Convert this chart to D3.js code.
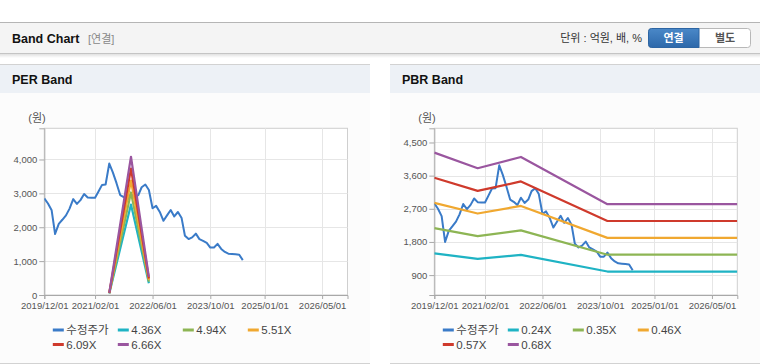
<!DOCTYPE html>
<html><head><meta charset="utf-8">
<script src="https://cdn.jsdelivr.net/npm/d3@7/dist/d3.min.js"></script>
<style>
html,body{margin:0;padding:0;background:#fff;}
svg{display:block;font-family:"Liberation Sans",Arial,"Noto Sans CJK KR",sans-serif;}
</style></head>
<body><svg id="c" width="760" height="364"></svg>
<script>
// ---- data ----
const priceStart = "2019-12-01"; // monthly closing (수정주가)
const priceValues = [2850,2700,2500,1800,2100,2220,2350,2550,2830,2690,2800,2980,
  2880,2870,2870,3050,3250,3260,3880,3620,3300,2950,2890,2800,
  3000,2860,2950,3180,3260,3100,2560,2630,2450,2190,2350,2510,
  2320,2450,2270,1750,1650,1700,1810,1650,1600,1540,1400,1400,
  1510,1360,1270,1220,1210,1200,1190,1030];
const perDates = ["2021-06-01","2021-12-01","2022-05-01"];
const perEps = [10, 612.6, 80];
const perMultiples = [4.36, 4.94, 5.51, 6.09, 6.66];
const pbrDates = ["2019-12-01","2020-12-01","2021-12-01","2023-12-01","2026-12-01"];
const pbrBps = [6215, 5590, 6040, 4155, 4155];
const pbrMultiples = [0.24, 0.35, 0.46, 0.57, 0.68];
const xTickLabels = ["2019/12/01","2021/02/01","2022/06/01","2023/10/01","2025/01/01","2026/05/01"];
const perYTicks = [0,1000,2000,3000,4000];
const pbrYTicks = [900,1800,2700,3600,4500];
const bandColors = ["#1fb3c4","#8db554","#f0a830","#cf3a2c","#9a569f"];
const priceColor = "#3a7bc8";

const svg = d3.select("#c");
const parse = d3.timeParse("%Y-%m-%d");
const p0 = parse(priceStart);
const priceSeries = priceValues.map((v,i)=>({d:d3.timeMonth.offset(p0,i), v}));

// ---- top header ----
const defs = svg.append("defs");
const sh = defs.append("linearGradient").attr("id","sh").attr("x1",0).attr("x2",0).attr("y1",0).attr("y2",1);
sh.append("stop").attr("offset",0).attr("stop-color","#000").attr("stop-opacity",0.12);
sh.append("stop").attr("offset",1).attr("stop-color","#000").attr("stop-opacity",0);
const bg = defs.append("linearGradient").attr("id","btn").attr("x1",0).attr("x2",0).attr("y1",0).attr("y2",1);
bg.append("stop").attr("offset",0).attr("stop-color","#4a88c8");
bg.append("stop").attr("offset",1).attr("stop-color","#2d68aa");

svg.append("rect").attr("x",0).attr("y",22).attr("width",760).attr("height",31).attr("fill","#f4f4f4");
svg.append("line").attr("x1",0).attr("x2",760).attr("y1",22.5).attr("y2",22.5).attr("stroke","#b5b5b5");
svg.append("line").attr("x1",0).attr("x2",760).attr("y1",53.5).attr("y2",53.5).attr("stroke","#c4c4c4");
svg.append("rect").attr("x",0).attr("y",54).attr("width",760).attr("height",4).attr("fill","url(#sh)");
svg.append("text").attr("x",12).attr("y",43).attr("font-size",12.5).attr("font-weight","bold").attr("fill","#111").text("Band Chart");
svg.append("text").attr("x",88).attr("y",43).attr("font-size",11).attr("fill","#888").text("[연결]");
svg.append("text").attr("x",642).attr("y",42).attr("text-anchor","end").attr("font-size",11).attr("fill","#333").text("단위 : 억원, 배, %");
svg.append("rect").attr("x",648.5).attr("y",28.5).attr("width",102).attr("height",19).attr("rx",3).attr("fill","#fff").attr("stroke","#b8b8b8");
svg.append("path").attr("d","M699,28.5 H651.5 a3,3 0 0 0 -3,3 V44.5 a3,3 0 0 0 3,3 H699 Z").attr("fill","url(#btn)").attr("stroke","#2d65a3");
svg.append("text").attr("x",673.5).attr("y",42).attr("text-anchor","middle").attr("font-size",11).attr("font-weight","bold").attr("fill","#fff").text("연결");
svg.append("text").attr("x",725).attr("y",42).attr("text-anchor","middle").attr("font-size",11).attr("font-weight","bold").attr("fill","#555").text("별도");

// ---- panels ----
function panel(x0, w, title){
  svg.append("rect").attr("x",x0).attr("y",64).attr("width",w).attr("height",29).attr("fill","#edf1f6");
  svg.append("line").attr("x1",x0).attr("x2",x0+w).attr("y1",64.5).attr("y2",64.5).attr("stroke","#d2d2d2");
  svg.append("rect").attr("x",x0).attr("y",93).attr("width",w).attr("height",270).attr("fill","#fcfcfc");
  svg.append("line").attr("x1",x0).attr("x2",x0+w).attr("y1",363.5).attr("y2",363.5).attr("stroke","#d2d2d2");
  svg.append("text").attr("x",x0+12).attr("y",84).attr("font-size",12.5).attr("font-weight","bold").attr("fill","#111").text(title);
}
panel(0,370,"PER Band");
panel(390,370,"PBR Band");

function chart(cfg){
  const g = svg.append("g");
  const x = d3.scaleTime().domain([parse("2019-12-01"), parse("2026-12-01")]).range([cfg.left, cfg.right]);
  const y = d3.scaleLinear().domain(cfg.yDomain).range([cfg.bottom, cfg.top]);
  const xt = xTickLabels.map(s=>d3.timeParse("%Y/%m/%d")(s));
  // frame
  g.append("rect").attr("x",cfg.left).attr("y",cfg.top).attr("width",cfg.right-cfg.left).attr("height",cfg.bottom-cfg.top)
    .attr("fill","#fff").attr("stroke","#cfcfcf");
  // grid
  g.selectAll(".hg").data(cfg.yTicks).join("line")
    .attr("x1",cfg.left).attr("x2",cfg.right).attr("y1",d=>Math.round(y(d))+0.5).attr("y2",d=>Math.round(y(d))+0.5)
    .attr("stroke","#e6e6e6");
  g.selectAll(".vg").data(xt).join("line")
    .attr("x1",d=>Math.round(x(d))+0.5).attr("x2",d=>Math.round(x(d))+0.5).attr("y1",cfg.top).attr("y2",cfg.bottom)
    .attr("stroke","#e6e6e6");
  // axes
  const ya = d3.axisLeft(y).tickValues(cfg.yTicks).tickSize(5).tickPadding(2).tickFormat(d3.format(","));
  const yg = g.append("g").attr("transform",`translate(${cfg.left},0)`).call(ya);
  const xa = d3.axisBottom(x).tickValues(xt).tickSize(4).tickPadding(3).tickFormat(d3.timeFormat("%Y/%m/%d"));
  const xg = g.append("g").attr("transform",`translate(0,${cfg.bottom})`).call(xa);
  [yg,xg].forEach(a=>{
    a.select(".domain").attr("stroke","#a8a8a8");
    a.selectAll(".tick line").attr("stroke","#a8a8a8");
    a.selectAll("text").attr("font-size",9.5).attr("fill","#555").attr("font-family",null);
  });
  g.append("text").attr("x",cfg.left-16).attr("y",122).attr("font-size",11).attr("fill","#555").text("(원)");
  // lines
  const clip = "clip"+cfg.left;
  defs.append("clipPath").attr("id",clip).append("rect").attr("x",cfg.left).attr("y",cfg.top-2).attr("width",cfg.right-cfg.left).attr("height",cfg.bottom-cfg.top+2);
  const lg = g.append("g").attr("clip-path",`url(#${clip})`);
  const line = d3.line().x(d=>x(d.d)).y(d=>y(d.v));
  lg.append("path").datum(priceSeries).attr("d",line).attr("fill","none").attr("stroke",priceColor).attr("stroke-width",2).attr("stroke-linejoin","round");
  const bd = cfg.bandDates.map(parse);
  cfg.mult.forEach((m,i)=>{
    const pts = bd.map((d,j)=>({d, v:cfg.base[j]*m}));
    lg.append("path").datum(pts).attr("d",line).attr("fill","none").attr("stroke",bandColors[i]).attr("stroke-width",2.2).attr("stroke-linejoin","round");
  });
  // legend
  const items = [{n:"수정주가",c:priceColor}].concat(cfg.mult.map((m,i)=>({n:m.toFixed(2)+"X",c:bandColors[i]})));
  items.forEach((it,i)=>{
    const col=i%4, row=Math.floor(i/4);
    const lx = cfg.left+8.5+col*65, ly = 330+row*14.5;
    g.append("rect").attr("x",lx).attr("y",ly-1.5).attr("width",11).attr("height",3).attr("fill",it.c);
    g.append("text").attr("x",lx+13.5).attr("y",ly+4).attr("font-size",11.5).attr("fill","#444").text(it.n);
  });
}

chart({left:44.3,right:347.5,top:128.3,bottom:295,yDomain:[0,4920],yTicks:perYTicks,
  bandDates:perDates,base:perEps,mult:perMultiples});
chart({left:434.3,right:737.3,top:128.3,bottom:295,yDomain:[360,4885],yTicks:pbrYTicks,
  bandDates:pbrDates,base:pbrBps,mult:pbrMultiples});
</script></body></html>
